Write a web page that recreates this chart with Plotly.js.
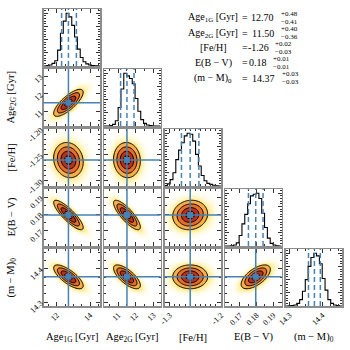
<!DOCTYPE html>
<html>
<head>
<meta charset="utf-8">
<script src="https://cdn.plot.ly/plotly-3.0.1.min.js"></script>
<style>html,body{margin:0;padding:0;background:#fff}#plot{width:350px;height:350px}</style>
</head>
<body>
<div id="plot"></div>
<script>
// corner plot of the fit posteriors
var labels = ["Age<sub>1G</sub> [Gyr]", "Age<sub>2G</sub> [Gyr]", "[Fe/H]", "E(B − V)", "(m − M)<sub>0</sub>"];
var medians = [12.70, 11.50, -1.26, 0.1795, 14.376];
var q16 = [12.29, 11.14, -1.277, 0.1751, 14.358];
var q84 = [13.18, 11.90, -1.243, 0.1839, 14.394];
var ranges = [[11.2, 14.6], [10.2, 13.4], [-1.31, -1.20], [0.161, 0.195], [14.288, 14.46]];
// correlation of row i vs column j (j < i)
var corr = [[], [0.78], [-0.12, -0.05], [-0.85, -0.82, 0.08], [-0.75, -0.72, 0.0, 0.62]];
// step histograms, 20 bins across each axis range
var hist = [
  [0, 0.01, 0.02, 0.05, 0.10, 0.30, 0.62, 0.85, 1.00, 0.93, 0.77, 0.55, 0.32, 0.16, 0.08, 0.04, 0.02, 0.01, 0.005, 0],
  [0, 0, 0.01, 0.03, 0.10, 0.35, 0.70, 1.00, 0.95, 0.90, 0.80, 0.52, 0.28, 0.12, 0.05, 0.02, 0.01, 0, 0, 0],
  [0.01, 0.04, 0.12, 0.25, 0.50, 0.68, 0.82, 0.95, 1.00, 0.98, 0.85, 0.60, 0.38, 0.20, 0.10, 0.05, 0.03, 0.015, 0.005, 0],
  [0, 0, 0.005, 0.02, 0.06, 0.20, 0.42, 0.60, 0.80, 0.95, 0.98, 1.00, 0.90, 0.62, 0.35, 0.15, 0.05, 0.02, 0.005, 0],
  [0, 0.005, 0.01, 0.02, 0.05, 0.12, 0.28, 0.50, 0.75, 0.92, 1.00, 0.95, 0.80, 0.52, 0.30, 0.12, 0.05, 0.02, 0.01, 0]
];
var xTicks = [[12, 14], [11, 12, 13], [-1.3, -1.2], [0.17, 0.18, 0.19], [14.3, 14.4]];
var xTickText = [["12", "14"], ["11", "12", "13"], ["-1.3", "-1.2"], ["0.17", "0.18", "0.19"], ["14.3", "14.4"]];
var yTicks = [[], [11, 12, 13], [-1.30, -1.25, -1.20], [0.17, 0.18, 0.19], [14.3, 14.4]];
var yTickText = [[], ["11", "12", "13"], ["-1.30", "-1.25", "-1.20"], ["0.17", "0.18", "0.19"], ["14.3", "14.4"]];
var minorStep = [0.5, 0.5, 0.01, 0.005, 0.025];

// summary table top right
var sumLabels = ["Age<sub>1G</sub> [Gyr]", "Age<sub>2G</sub> [Gyr]", "[Fe/H]", "E(B − V)", "(m − M)<sub>0</sub>"];
var sumValues = ["12.70", "11.50", "-1.26", "0.18", "14.37"];
var sumPlus = ["+0.48", "+0.40", "+0.02", "+0.01", "+0.03"];
var sumMinus = ["−0.41", "−0.36", "−0.03", "−0.01", "−0.03"];

var fontFam = "Liberation Serif, Times New Roman, serif";
var blue = "#4682b4";
var L = 43.5, P = 60.5, W = 56.5, T = 9, PV = 60, H = 57;

var glow = [[0, "#ffffff"], [0.05, "#fffdef"], [0.2, "#fff7cc"], [0.45, "#ffee9e"], [1, "#fde174"]];
var tr = "rgba(255,255,255,0)";
var fills = [[0, tr], [0.125, tr], [0.125, "#f7ae48"], [0.375, "#f7ae48"], [0.375, "#e26c28"],
  [0.625, "#e26c28"], [0.625, "#b3321a"], [0.875, "#b3321a"], [0.875, "#6a0d0d"], [1, "#6a0d0d"]];

var data = [], shapes = [], annotations = [];
var layout = {
  width: 350, height: 350,
  margin: {l: 0, r: 0, t: 0, b: 0},
  showlegend: false,
  paper_bgcolor: "white", plot_bgcolor: "white",
  font: {family: fontFam, color: "black"}
};

function axisBase() {
  return {
    showgrid: false, zeroline: false, showline: true, linecolor: "#8c8c8c", linewidth: 1.5,
    mirror: "allticks", ticks: "inside", ticklen: 4, tickwidth: 1, tickcolor: "#333",
    tickfont: {size: 8, family: fontFam}, fixedrange: true
  };
}

var n = 0;
for (var i = 0; i < 5; i++) {
  for (var j = 0; j <= i; j++) {
    n++;
    var sx = n === 1 ? "" : n;
    var xa = "x" + sx, ya = "y" + sx;
    var xd = [(L + P * j) / 350, (L + P * j + W) / 350];
    var yd = [1 - (T + PV * i + H) / 350, 1 - (T + PV * i) / 350];

    layout["xaxis" + sx] = Object.assign(axisBase(), {
      domain: xd, range: ranges[j], anchor: ya,
      tickmode: "array", tickvals: xTicks[j], ticktext: xTickText[j],
      showticklabels: i === 4, tickangle: -45,
      minor: {ticks: "inside", ticklen: 2, dtick: minorStep[j], tick0: 0, tickcolor: "#333"}
    });

    if (i === j) {
      layout["yaxis" + sx] = Object.assign(axisBase(), {
        domain: yd, range: [0, 1.08], anchor: xa, showticklabels: false, dtick: 0.25,
        minor: {ticks: "inside", ticklen: 2, dtick: 0.05, tickcolor: "#333"}
      });
      var r0 = ranges[j][0], bw = (ranges[j][1] - ranges[j][0]) / hist[j].length;
      var hx = [], hy = [];
      for (var k = 0; k < hist[j].length; k++) {
        hx.push(r0 + k * bw);
        hy.push(hist[j][k]);
      }
      hx.push(ranges[j][1]);
      hy.push(hist[j][hist[j].length - 1]);
      data.push({type: "scatter", mode: "lines", x: hx, y: hy, xaxis: xa, yaxis: ya,
        line: {color: "black", width: 1.1, shape: "hv"}, hoverinfo: "skip"});
      [q16[j], medians[j], q84[j]].forEach(function (q) {
        shapes.push({type: "line", xref: xa, yref: ya + " domain", x0: q, x1: q, y0: 0, y1: 1,
          line: {color: blue, width: 1.5, dash: "5px,3px"}});
      });
    } else {
      layout["yaxis" + sx] = Object.assign(axisBase(), {
        domain: yd, range: ranges[i], anchor: xa,
        tickmode: "array", tickvals: yTicks[i], ticktext: yTickText[i],
        showticklabels: j === 0, tickangle: -45,
        minor: {ticks: "inside", ticklen: 2, dtick: minorStep[i], tick0: 0, tickcolor: "#333"}
      });
      var sxj = (q84[j] - q16[j]) / 2, syi = (q84[i] - q16[i]) / 2, rho = corr[i][j];
      var gx = [], gy = [], dens = [], rad = [];
      var N = 60;
      for (var a = 0; a < N; a++) {
        gx.push(ranges[j][0] + (ranges[j][1] - ranges[j][0]) * a / (N - 1));
        gy.push(ranges[i][0] + (ranges[i][1] - ranges[i][0]) * a / (N - 1));
      }
      for (var b = 0; b < N; b++) {
        var drow = [], rrow = [];
        for (var c = 0; c < N; c++) {
          var dx = (gx[c] - medians[j]) / sxj, dy = (gy[b] - medians[i]) / syi;
          var qq = (dx * dx - 2 * rho * dx * dy + dy * dy) / (1 - rho * rho);
          drow.push(Math.exp(-0.5 * qq));
          rrow.push(-Math.sqrt(qq));
        }
        dens.push(drow);
        rad.push(rrow);
      }
      data.push({type: "heatmap", x: gx, y: gy, z: dens, zmin: 0, zmax: 0.2, zsmooth: "best",
        colorscale: glow, showscale: false, xaxis: xa, yaxis: ya, hoverinfo: "skip"});
      data.push({type: "contour", x: gx, y: gy, z: rad, autocontour: false,
        contours: {coloring: "fill", start: -2, end: -0.5, size: 0.5, showlines: true},
        line: {color: "black", width: 1, smoothing: 1},
        colorscale: fills, showscale: false, xaxis: xa, yaxis: ya, hoverinfo: "skip"});
      data.push({type: "scatter", mode: "markers", x: [medians[j]], y: [medians[i]], xaxis: xa, yaxis: ya,
        marker: {symbol: "square", size: 6, color: blue}, hoverinfo: "skip"});
      shapes.push({type: "line", xref: xa, yref: ya + " domain", x0: medians[j], x1: medians[j], y0: 0, y1: 1,
        line: {color: blue, width: 1.5}});
      shapes.push({type: "line", xref: xa + " domain", yref: ya, x0: 0, x1: 1, y0: medians[i], y1: medians[i],
        line: {color: blue, width: 1.5}});
    }
  }
}

// axis titles
for (var j2 = 0; j2 < 5; j2++) {
  annotations.push({text: labels[j2], xref: "paper", yref: "paper", showarrow: false,
    x: (L + P * j2 + W / 2) / 350, y: 1 - 337 / 350, xanchor: "center", yanchor: "middle",
    font: {size: 10.5, family: fontFam}});
}
for (var i2 = 1; i2 < 5; i2++) {
  annotations.push({text: labels[i2], xref: "paper", yref: "paper", showarrow: false, textangle: -90,
    x: 11 / 350, y: 1 - (T + PV * i2 + H / 2) / 350, xanchor: "center", yanchor: "middle",
    font: {size: 10.5, family: fontFam}});
}

// summary block
var valueEnd = [276, 276, 271, 269, 277];
var scriptX = [280, 280, 274, 272, 281];
for (var m = 0; m < 5; m++) {
  var yy = 18 + 15 * m;
  annotations.push({text: sumLabels[m], xref: "paper", yref: "paper", showarrow: false,
    x: 213 / 350, y: 1 - yy / 350, xanchor: "center", yanchor: "middle", font: {size: 10, family: fontFam}});
  annotations.push({text: "=", xref: "paper", yref: "paper", showarrow: false,
    x: 245 / 350, y: 1 - yy / 350, xanchor: "center", yanchor: "middle", font: {size: 10, family: fontFam}});
  annotations.push({text: sumValues[m], xref: "paper", yref: "paper", showarrow: false,
    x: valueEnd[m] / 350, y: 1 - yy / 350, xanchor: "right", yanchor: "middle", font: {size: 10, family: fontFam}});
  annotations.push({text: sumPlus[m], xref: "paper", yref: "paper", showarrow: false, borderpad: 0,
    x: scriptX[m] / 350, y: 1 - (yy - 4) / 350, xanchor: "left", yanchor: "middle", font: {size: 7, family: fontFam}});
  annotations.push({text: sumMinus[m], xref: "paper", yref: "paper", showarrow: false, borderpad: 0,
    x: scriptX[m] / 350, y: 1 - (yy + 4) / 350, xanchor: "left", yanchor: "middle", font: {size: 7, family: fontFam}});
}

layout.shapes = shapes;
layout.annotations = annotations;

Plotly.newPlot("plot", data, layout, {displayModeBar: false, staticPlot: true});
</script>
</body>
</html>
